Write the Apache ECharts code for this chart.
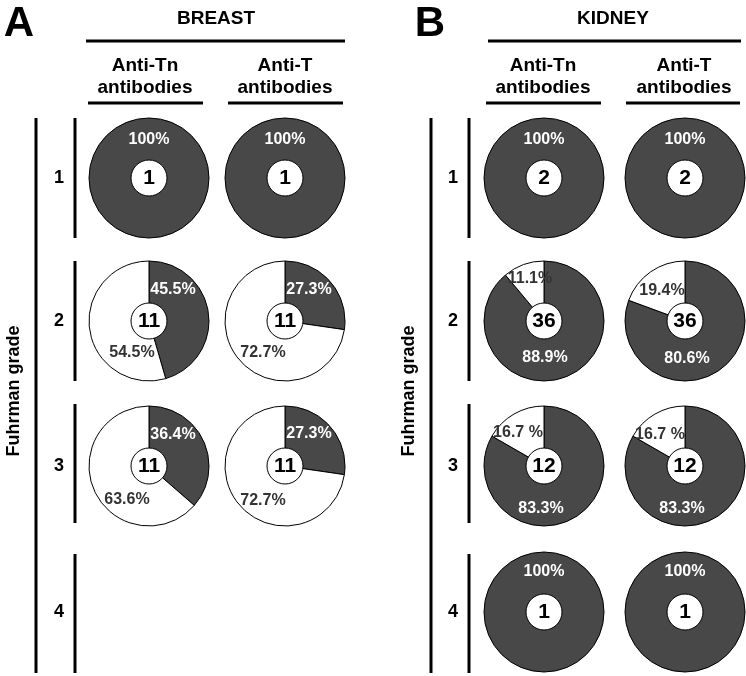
<!DOCTYPE html>
<html>
<head>
<meta charset="utf-8">
<script src="https://cdn.jsdelivr.net/npm/echarts@6/dist/echarts.min.js"></script>
<style>
html,body{margin:0;padding:0;background:#fff;}
#chart{width:746px;height:676px;}
</style>
</head>
<body>
<div id="chart"></div>
<script>
// ---- data ----
const grades = ['1', '2', '3', '4'];
const breastTnPositive = [100, 45.5, 36.4, null];
const breastTPositive  = [100, 27.3, 27.3, null];
const kidneyTnPositive = [100, 88.9, 83.3, 100];
const kidneyTPositive  = [100, 80.6, 83.3, 100];
const breastCases = [1, 11, 11, null];
const kidneyCases = [2, 36, 12, 1];
const breastNegSuffix = ['%', '%', '%', '%'];
const kidneyNegSuffix = ['%', '%', ' %', '%'];

// ---- layout / style ----
const FONT = '"Liberation Sans", Arial, sans-serif';
const DARK = '#484848';
const colX = [149, 285, 544, 685];
const rowY = [178, 321, 466, 612];
const R = 60, R_IN = 18;
// label offsets [dx,dy] relative to pie centre: pos / neg
const labelOffsets = [
  [{pos:[0,-38]}, {pos:[24,-31], neg:[-17,32]}, {pos:[24,-31], neg:[-22,34]}, null],
  [{pos:[0,-38]}, {pos:[24,-31], neg:[-22,32]}, {pos:[24,-32], neg:[-22,35]}, null],
  [{pos:[0,-38]}, {pos:[1,37], neg:[-14,-42]}, {pos:[-3,43], neg:[-26,-33]}, {pos:[0,-40]}],
  [{pos:[0,-38]}, {pos:[2,38], neg:[-23,-30]}, {pos:[-3,43], neg:[-25,-31]}, {pos:[0,-40]}]
];

const panels = [
  {pos: breastTnPositive, cases: breastCases, suffix: breastNegSuffix},
  {pos: breastTPositive,  cases: breastCases, suffix: breastNegSuffix},
  {pos: kidneyTnPositive, cases: kidneyCases, suffix: kidneyNegSuffix},
  {pos: kidneyTPositive,  cases: kidneyCases, suffix: kidneyNegSuffix}
];

function fmtPct(v, suffix) {
  return (v === 100 ? '100' : v.toFixed(1)) + suffix;
}

const series = [];
panels.forEach((p, c) => {
  grades.forEach((g, r) => {
    const v = p.pos[r];
    if (v == null) return;
    const cx = colX[c], cy = rowY[r];
    const off = labelOffsets[c][r];
    const neg = Math.round((100 - v) * 10) / 10;
    const data = [{
      name: 'positive', value: v,
      itemStyle: {color: DARK},
      label: {color: '#fff'},
      txt: fmtPct(v, '%'), off: off.pos
    }];
    if (neg > 0) data.push({
      name: 'negative', value: neg,
      itemStyle: {color: '#fff'},
      label: {color: '#333'},
      txt: fmtPct(neg, p.suffix[r]), off: off.neg
    });
    series.push({
      type: 'pie', silent: true, animation: false,
      center: [cx, cy], radius: [0, R],
      startAngle: 90, clockwise: true,
      avoidLabelOverlap: false,
      itemStyle: {borderColor: '#000', borderWidth: 1},
      label: {
        show: true, position: 'inside',
        fontFamily: FONT, fontWeight: 'bold', fontSize: 16,
        formatter: prm => prm.data.txt
      },
      labelLine: {show: false},
      labelLayout: prm => {
        const d = data[prm.dataIndex];
        return {x: cx + d.off[0], y: cy + d.off[1], align: 'center', verticalAlign: 'middle'};
      },
      data: data
    });
    series.push({
      type: 'pie', silent: true, animation: false,
      center: [cx, cy], radius: [0, R_IN],
      itemStyle: {color: '#fff', borderColor: '#000', borderWidth: 1},
      label: {
        show: true, position: 'center',
        fontFamily: FONT, fontWeight: 'bold', fontSize: 21, color: '#000',
        formatter: String(p.cases[r])
      },
      labelLine: {show: false},
      data: [{name: 'n', value: p.cases[r]}]
    });
  });
});

// ---- static frame: lines and headings ----
const graphic = [];
function line(x1, y1, x2, y2) {
  graphic.push({type: 'line', silent: true, shape: {x1, y1, x2, y2},
    style: {stroke: '#000', lineWidth: 3}});
}
function text(t, x, y, size, rot) {
  graphic.push({type: 'text', silent: true, x, y, rotation: rot || 0,
    style: {text: t, fontFamily: FONT, fontWeight: 'bold', fontSize: size, fill: '#000',
      align: 'center', verticalAlign: 'middle'}});
}
const segs = [[118, 238], [261, 381], [404, 523], [554, 673]];
[[36, 75, 59, 14], [431, 469, 453, 409]].forEach(([outerX, innerX, numX, titleX]) => {
  line(outerX, 118, outerX, 673);
  segs.forEach(([a, b]) => line(innerX, a, innerX, b));
  grades.forEach((g, r) => text(g, numX, rowY[r], 18));
  text('Fuhrman grade', titleX, 391, 18, Math.PI / 2);
});
text('A', 19, 24, 42);
text('B', 430, 24, 42);
text('BREAST', 216, 19, 19);
text('KIDNEY', 613, 19, 19);
line(86, 41, 345, 41);
line(488, 41, 741, 41);
[[145, 88, 203, 'Anti-Tn'], [285, 228, 343, 'Anti-T'], [543, 486, 601, 'Anti-Tn'], [684, 626, 740, 'Anti-T']]
  .forEach(([cx, a, b, t]) => {
    text(t, cx, 66, 19);
    text('antibodies', cx, 88, 19);
    line(a, 103, b, 103);
  });

const chart = echarts.init(document.getElementById('chart'), null, {renderer: 'canvas'});
chart.setOption({animation: false, graphic: graphic, series: series});
</script>
</body>
</html>
